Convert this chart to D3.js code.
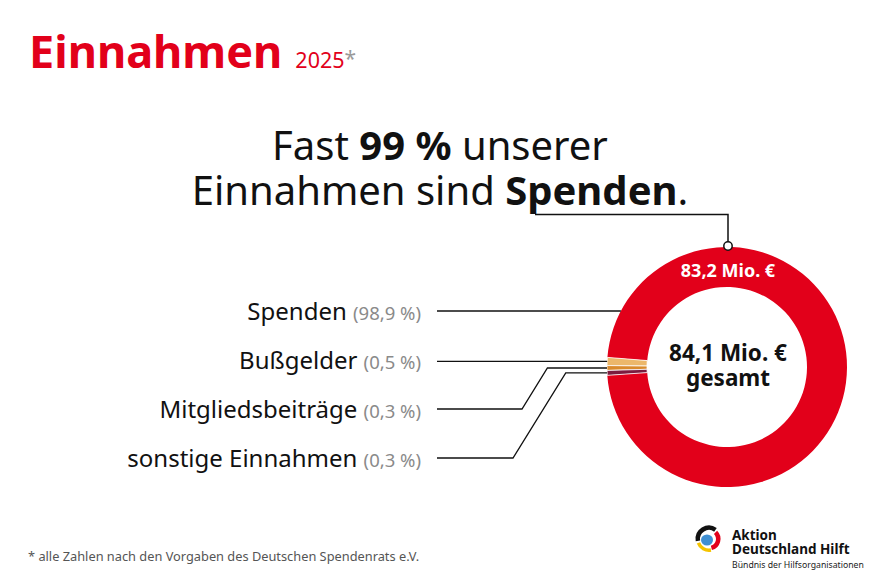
<!DOCTYPE html>
<html>
<head>
<meta charset="utf-8">
<script src="https://cdn.jsdelivr.net/npm/d3@7"></script>
<style>
  body { margin: 0; background: #fff; }
  svg { display: block; font-family: "Noto Sans", sans-serif; }
</style>
</head>
<body>
<div id="chart"></div>
<script>
// Einnahmen 2025 - donut with leader lines

var svgWidth = 880;
var svgHeight = 587;

// data
var categories = ["Spenden", "Bußgelder", "Mitgliedsbeiträge", "sonstige Einnahmen"];
var shares = [98.9, 0.5, 0.3, 0.3];
var shareLabels = ["(98,9 %)", "(0,5 %)", "(0,3 %)", "(0,3 %)"];
var totalLabel = "84,1 Mio. €";
var donationLabel = "83,2 Mio. €";

var colors = ["#e2001a", "#ecb76a", "#d98a2c", "#7c1c3e"];

// the artwork draws the tiny slices wider than their share so they stay visible
var minorBoost = 2.2;

var svg = d3.select("#chart")
  .append("svg")
  .attr("width", svgWidth)
  .attr("height", svgHeight);

var red = "#e2001a";

// Title
var title = svg.append("text")
  .attr("x", 29)
  .attr("y", 68);
title.append("tspan")
  .attr("font-size", 45)
  .attr("font-weight", 700)
  .attr("fill", red)
  .text("Einnahmen");
title.append("tspan")
  .attr("dx", 13)
  .attr("font-size", 21.5)
  .attr("fill", red)
  .text("2025");
title.append("tspan")
  .attr("font-size", 21)
  .attr("dy", -2)
  .attr("fill", "#9a9a9a")
  .text("*");

// Headline
var head1 = svg.append("text")
  .attr("x", 440).attr("y", 160)
  .attr("text-anchor", "middle")
  .attr("font-size", 40)
  .attr("fill", "#111");
head1.append("tspan").text("Fast ");
head1.append("tspan").attr("font-weight", 700).text("99 %");
head1.append("tspan").text(" unserer");

var head2 = svg.append("text")
  .attr("x", 440).attr("y", 205)
  .attr("text-anchor", "middle")
  .attr("font-size", 40)
  .attr("fill", "#111");
head2.append("tspan").text("Einnahmen sind ");
head2.append("tspan").attr("font-weight", 700).text("Spenden");
head2.append("tspan").text(".");

// Donut
var cx = 727, cy = 367;
var outerR = 120, innerR = 80;
var deg = Math.PI / 180;
var startA = 266 * deg;

var pie = d3.pie()
  .sort(null)
  .value(function(d, i) { return i === 0 ? d : d * minorBoost; })
  .startAngle(startA)
  .endAngle(startA - 2 * Math.PI);

var arcs = pie(shares);

var arc = d3.arc()
  .innerRadius(innerR)
  .outerRadius(outerR);

var donut = svg.append("g")
  .attr("transform", `translate(${cx}, ${cy})`);

donut.selectAll("path")
  .data(arcs)
  .enter()
  .append("path")
  .attr("d", arc)
  .attr("fill", (d, i) => colors[i])
  .attr("stroke", "#fff")
  .attr("stroke-width", (d, i) => i === 0 ? 0 : 0.8);

donut.append("text")
  .attr("x", 1).attr("y", -6)
  .attr("text-anchor", "middle")
  .attr("font-size", 22.5)
  .attr("font-weight", 700)
  .attr("fill", "#111")
  .text(totalLabel);
donut.append("text")
  .attr("x", 1).attr("y", 19)
  .attr("text-anchor", "middle")
  .attr("font-size", 22.5)
  .attr("font-weight", 700)
  .attr("fill", "#111")
  .text("gesamt");

donut.append("text")
  .attr("x", 1).attr("y", -90)
  .attr("text-anchor", "middle")
  .attr("font-size", 18)
  .attr("font-weight", 700)
  .attr("fill", "#fff")
  .text(donationLabel);

// callout from headline to top of ring
svg.append("path")
  .attr("d", `M535,214.5 H${cx + 1} V${cy - outerR - 1}`)
  .attr("fill", "none")
  .attr("stroke", "#111")
  .attr("stroke-width", 1.5);
svg.append("circle")
  .attr("cx", cx + 1).attr("cy", cy - outerR - 1)
  .attr("r", 4.2)
  .attr("fill", "#fff")
  .attr("stroke", "#111")
  .attr("stroke-width", 1.5);

// Category labels and leader lines
var labelY = d3.scalePoint()
  .domain(categories)
  .range([311, 458]);

var labelRight = 421;
var lineStart = 437;

var labels = svg.append("g");

categories.forEach(function(c, i) {
  var y = labelY(c);
  var t = labels.append("text")
    .attr("x", labelRight)
    .attr("y", y + 9)
    .attr("text-anchor", "end");
  t.append("tspan")
    .attr("font-size", 24)
    .attr("fill", "#111")
    .text(c + " ");
  t.append("tspan")
    .attr("font-size", 18.5)
    .attr("fill", "#8a8a8a")
    .text(shareLabels[i]);

  var pts;
  if (i === 0) {
    var xEdge = cx - Math.sqrt(outerR * outerR - (y - cy) * (y - cy));
    pts = [[lineStart, y], [xEdge, y]];
  } else {
    var a = (arcs[i].startAngle + arcs[i].endAngle) / 2;
    var ex = cx + outerR * Math.sin(a);
    var ey = cy - outerR * Math.cos(a);
    if (Math.abs(ey - y) < 3) {
      pts = [[lineStart, ey], [ex, ey]];
    } else {
      var bendX = [0, 0, 522, 513][i];
      var topX = bendX + (y - ey) * 0.62;
      pts = [[lineStart, y], [bendX, y], [topX, ey], [ex, ey]];
    }
  }
  labels.append("path")
    .attr("d", d3.line()(pts))
    .attr("fill", "none")
    .attr("stroke", "#111")
    .attr("stroke-width", 1.3);
});

// Footnote
svg.append("text")
  .attr("x", 28).attr("y", 561)
  .attr("font-size", 12.8)
  .attr("fill", "#555")
  .text("* alle Zahlen nach den Vorgaben des Deutschen Spendenrats e.V.");

// Logo
var logo = svg.append("g").attr("transform", "translate(709, 539)");
var logoArc = d3.arc();
logo.append("path")
  .attr("d", logoArc({ innerRadius: 9, outerRadius: 13.5, startAngle: -100 * deg, endAngle: 35 * deg }))
  .attr("fill", "#111");
logo.append("path")
  .attr("d", logoArc({ innerRadius: 7, outerRadius: 11.5, startAngle: 45 * deg, endAngle: 165 * deg }))
  .attr("fill", red);
logo.append("path")
  .attr("d", logoArc({ innerRadius: 9.5, outerRadius: 13, startAngle: 170 * deg, endAngle: 250 * deg }))
  .attr("fill", "#f5c400");
logo.append("ellipse")
  .attr("cx", -2).attr("cy", 1)
  .attr("rx", 6).attr("ry", 5.5)
  .attr("fill", "#3f8fd2");

var logoText = svg.append("g")
  .attr("font-weight", 700)
  .attr("fill", "#111");
logoText.append("text").attr("x", 732).attr("y", 540).attr("font-size", 13.5).text("Aktion");
logoText.append("text").attr("x", 732).attr("y", 554).attr("font-size", 13.5).text("Deutschland Hilft");
svg.append("text")
  .attr("x", 732).attr("y", 568)
  .attr("font-size", 8.7)
  .attr("fill", "#222")
  .text("Bündnis der Hilfsorganisationen");
</script>
</body>
</html>
